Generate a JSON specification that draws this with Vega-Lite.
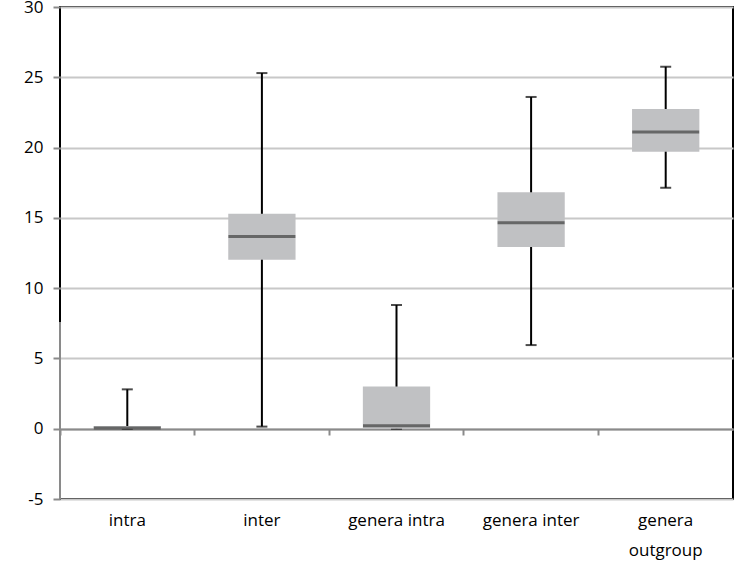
{
  "$schema": "https://vega.github.io/schema/vega-lite/v6.json",
  "width": 673,
  "height": 492,
  "autosize": {"type": "none"},
  "padding": {"left": 60, "top": 7, "right": 23, "bottom": 62},
  "background": "white",
  "config": {
    "view": {"stroke": "black", "strokeWidth": 2},
    "font": "Open Sans"
  },
  "data": {
    "values": [
      {"cat": "intra", "min": 0, "q1": 0, "median": 0.05, "q3": 0.2, "max": 2.8},
      {"cat": "inter", "min": 0.15, "q1": 12.02, "median": 13.68, "q3": 15.29, "max": 25.3},
      {"cat": "genera intra", "min": 0, "q1": 0, "median": 0.21, "q3": 3.01, "max": 8.8},
      {"cat": "genera inter", "min": 5.95, "q1": 12.92, "median": 14.65, "q3": 16.83, "max": 23.6},
      {"cat": "genera outgroup", "min": 17.14, "q1": 19.7, "median": 21.1, "q3": 22.74, "max": 25.75}
    ]
  },
  "resolve": {"axis": {"x": "independent"}},
  "layer": [
    {
      "mark": {"type": "rule", "color": "black", "strokeWidth": 2},
      "encoding": {
        "x": {
          "field": "cat", "type": "nominal", "sort": null,
          "scale": {"paddingInner": 0, "paddingOuter": 0},
          "axis": {
            "title": null, "orient": "bottom", "domain": false, "ticks": false,
            "labelAngle": 0, "labelFontSize": 17, "labelColor": "black", "labelPadding": 13,
            "labelExpr": "datum.label == 'genera outgroup' ? ['genera', 'outgroup'] : datum.label",
            "labelLineHeight": 30
          }
        },
        "y": {
          "field": "min", "type": "quantitative",
          "scale": {"domain": [-5, 30], "nice": false, "zero": false},
          "axis": {
            "title": null, "values": [-5, 0, 5, 10, 15, 20, 25, 30],
            "labelExpr": "toString(datum.value)",
            "domain": false, "ticks": true, "tickColor": "#8a8a8a", "tickSize": 7, "tickWidth": 2,
            "labelFontSize": 17, "labelColor": "black", "labelPadding": 10,
            "grid": true, "gridColor": "#c8c8c8", "gridWidth": 2
          }
        },
        "y2": {"field": "max"}
      }
    },
    {
      "mark": {"type": "rule", "color": "#8a8a8a", "strokeWidth": 2},
      "encoding": {
        "x": {
          "field": "cat", "type": "nominal", "sort": null,
          "axis": {
            "title": null, "orient": "bottom", "offset": -70,
            "labels": false, "domain": true, "domainColor": "#8a8a8a", "domainWidth": 2,
            "ticks": true, "tickColor": "#8a8a8a", "tickWidth": 2, "tickSize": 6, "bandPosition": 0
          }
        },
        "y": {"datum": 0}
      }
    },
    {
      "mark": {"type": "rule", "color": "#8a8a8a", "strokeWidth": 2},
      "encoding": {
        "x": {"datum": "intra", "type": "nominal", "bandPosition": 0, "axis": null},
        "y": {"datum": -5, "type": "quantitative"},
        "y2": {"datum": 7.6}
      }
    },
    {
      "mark": {"type": "tick", "color": "black", "thickness": 2, "size": 11},
      "encoding": {
        "x": {"field": "cat", "type": "nominal", "sort": null, "axis": null},
        "y": {"field": "max", "type": "quantitative"}
      }
    },
    {
      "mark": {"type": "tick", "color": "black", "thickness": 2, "size": 11},
      "encoding": {
        "x": {"field": "cat", "type": "nominal", "sort": null, "axis": null},
        "y": {"field": "min", "type": "quantitative"}
      }
    },
    {
      "mark": {"type": "bar", "color": "#c0c1c3", "width": {"band": 0.5}},
      "encoding": {
        "x": {"field": "cat", "type": "nominal", "sort": null, "axis": null},
        "y": {"field": "q1", "type": "quantitative"},
        "y2": {"field": "q3"}
      }
    },
    {
      "mark": {"type": "tick", "color": "#404040", "thickness": 3, "size": 67},
      "encoding": {
        "x": {"field": "cat", "type": "nominal", "sort": null, "axis": null},
        "y": {"field": "median", "type": "quantitative"}
      }
    }
  ]
}
